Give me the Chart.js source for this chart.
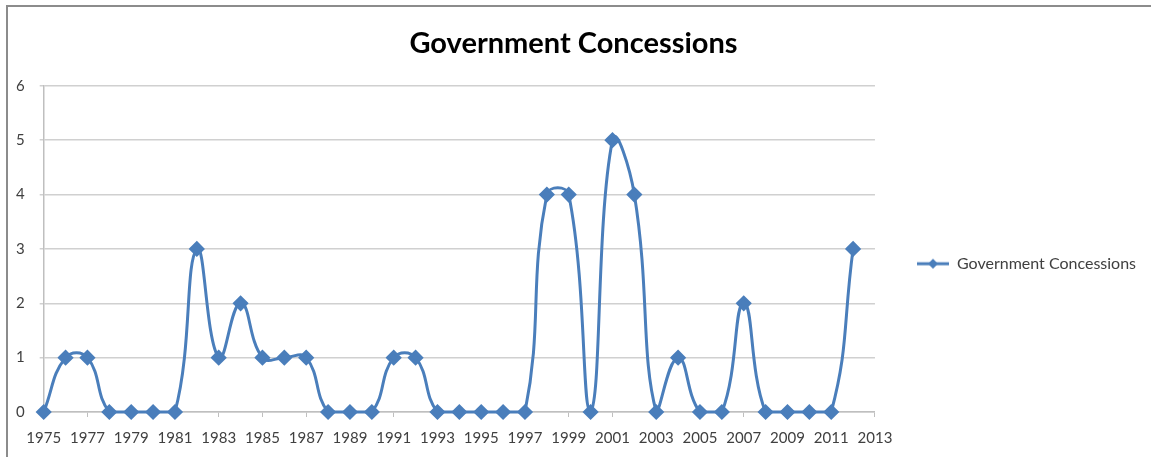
<!DOCTYPE html>
<html>
<head>
<meta charset="utf-8">
<script src="https://cdn.jsdelivr.net/npm/chart.js@4"></script>
<style>
  body { margin: 0; background: #fff; }
  #wrap { position: relative; width: 1151px; height: 457px; }
  #frame { position: absolute; left: 6px; top: 5px; right: 0; bottom: 0;
           border-top: 2px solid #8c8c8c; border-left: 2px solid #8c8c8c; pointer-events: none; }
  canvas { position: absolute; left: 0; top: 0; }
</style>
</head>
<body>
<div id="wrap">
  <canvas id="grafico" width="1151" height="457"></canvas>
  <div id="frame"></div>
</div>
<script>
// anos e valores
const anos = [1975, 1976, 1977, 1978, 1979, 1980, 1981, 1982, 1983, 1984,
              1985, 1986, 1987, 1988, 1989, 1990, 1991, 1992, 1993, 1994,
              1995, 1996, 1997, 1998, 1999, 2000, 2001, 2002, 2003, 2004,
              2005, 2006, 2007, 2008, 2009, 2010, 2011, 2012];
const concessoes = [0, 1, 1, 0, 0, 0, 0, 3, 1, 2,
                    1, 1, 1, 0, 0, 0, 1, 1, 0, 0,
                    0, 0, 0, 4, 4, 0, 5, 4, 0, 1,
                    0, 0, 2, 0, 0, 0, 0, 3];
const nomeSerie = "Government Concessions";
const titulo = "Government Concessions";

const azul = "#4a7ebb";

// ícone da legenda: linha com losango (parte esquerda transparente = espaço)
function iconeLegenda() {
    const c = document.createElement("canvas");
    c.width = 64; c.height = 14;
    const g = c.getContext("2d");
    g.strokeStyle = azul;
    g.lineWidth = 3;
    g.beginPath();
    g.moveTo(32, 7); g.lineTo(64, 7);
    g.stroke();
    g.fillStyle = azul;
    g.beginPath();
    g.moveTo(48, 2); g.lineTo(53, 7); g.lineTo(48, 12); g.lineTo(43, 7);
    g.closePath();
    g.fill();
    return c;
}

const ctx = document.getElementById("grafico").getContext("2d");

new Chart(ctx, {
    type: "line",
    data: {
        datasets: [{
            label: nomeSerie,
            data: anos.map((a, i) => ({ x: a, y: concessoes[i] })),
            borderColor: azul,
            backgroundColor: azul,
            borderWidth: 3,
            pointStyle: "rectRot",
            pointRadius: 6,
            pointHoverRadius: 6,
            tension: 0.45,
            clip: false
        }]
    },
    options: {
        responsive: false,
        animation: false,
        layout: { padding: { left: 1, right: 5, top: 0, bottom: -2 } },
        plugins: {
            title: {
                display: true,
                text: titulo,
                color: "#000",
                font: { family: "Lato", size: 29, weight: "bold" },
                padding: { top: 26, bottom: 25 }
            },
            legend: {
                position: "right",
                title: { display: true, text: "", font: { size: 12 }, padding: { top: 54, bottom: 0 } },
                labels: {
                    usePointStyle: true,
                    pointStyle: iconeLegenda(),
                    pointStyleWidth: 64,
                    padding: 10,
                    color: "#404040",
                    font: { family: "Lato", size: 16 }
                }
            },
            tooltip: { enabled: false }
        },
        scales: {
            x: {
                type: "linear",
                min: 1975,
                max: 2013,
                border: { color: "#bfbfbf", width: 1.5 },
                grid: { drawOnChartArea: false, drawTicks: true, tickLength: 5, color: "#bfbfbf" },
                ticks: {
                    stepSize: 2,
                    padding: 12,
                    maxRotation: 0,
                    color: "#404040",
                    font: { family: "Lato", size: 15 },
                    callback: v => String(v)
                }
            },
            y: {
                min: 0,
                max: 6,
                border: { color: "#bfbfbf", width: 1.5 },
                grid: { color: "#d0d0d0", lineWidth: 1.5, tickLength: 4 },
                ticks: {
                    stepSize: 1,
                    padding: 15,
                    color: "#404040",
                    font: { family: "Lato", size: 15 }
                }
            }
        }
    }
});
</script>
</body>
</html>
